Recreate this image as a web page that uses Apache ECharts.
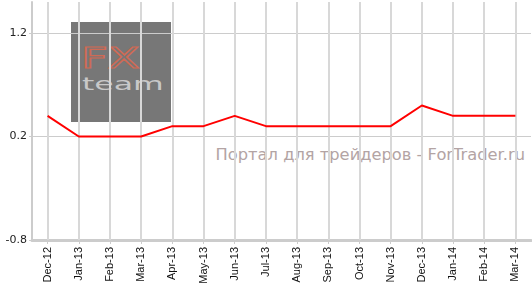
<!DOCTYPE html>
<html>
<head>
<meta charset="utf-8">
<script src="https://cdn.jsdelivr.net/npm/echarts@6/dist/echarts.min.js"></script>
<style>
html,body{margin:0;padding:0;background:#fff}
#wrap{position:relative;width:532px;height:287px}
#bg{position:absolute;left:0;top:0;width:532px;height:287px;z-index:0}
#c{position:absolute;left:0;top:0;width:532px;height:287px;z-index:1}
#logo{position:absolute;left:71px;top:22px;width:100px;height:100px;background:#777}
#fx{position:absolute;left:10px;top:22px;font:29px "DejaVu Sans";line-height:29px;color:transparent;-webkit-text-stroke:1.2px #cf6a55;transform:scaleX(1.6);transform-origin:0 0;white-space:nowrap}
#team{position:absolute;left:11px;top:53px;font:18px "DejaVu Sans";line-height:18px;color:#c8c8c8;transform:scaleX(1.75);transform-origin:0 0;white-space:nowrap}
#wm{position:absolute;right:7px;top:145px;font:16.3px "DejaVu Sans";line-height:20px;color:#b3a4a4;white-space:nowrap}
</style>
</head>
<body>
<div id="wrap">
  <div id="bg">
    <div id="logo"><div id="fx">FX</div><div id="team">team</div></div>
    <div id="wm"></div>
  </div>
  <div id="c"></div>
</div>
<script>
const categories = ['Dec-12','Jan-13','Feb-13','Mar-13','Apr-13','May-13','Jun-13','Jul-13','Aug-13','Sep-13','Oct-13','Nov-13','Dec-13','Jan-14','Feb-14','Mar-14'];
const values = [0.4, 0.2, 0.2, 0.2, 0.3, 0.3, 0.4, 0.3, 0.3, 0.3, 0.3, 0.3, 0.5, 0.4, 0.4, 0.4];
const yTicks = [-0.8, 0.2, 1.2];
const watermarkText = 'Портал для трейдеров - ForTrader.ru';
document.getElementById('wm').textContent = watermarkText;

const chart = echarts.init(document.getElementById('c'), null, {renderer: 'canvas'});
chart.setOption({
  animation: false,
  backgroundColor: 'transparent',
  grid: {left: 32, right: 1, top: 2, bottom: 47},
  xAxis: {
    type: 'category',
    data: categories,
    boundaryGap: true,
    axisLine: {show: true, onZero: false, lineStyle: {color: '#cccccc', width: 3}},
    axisTick: {show: true, alignWithLabel: true, length: 4, lineStyle: {color: '#cccccc'}},
    axisLabel: {rotate: 90, fontSize: 11, fontFamily: 'Liberation Sans', color: '#111', margin: 7, interval: 0},
    splitLine: {show: false}
  },
  yAxis: {
    type: 'value',
    min: yTicks[0],
    max: 1.5,
    interval: 1,
    axisLine: {show: true, lineStyle: {color: '#cccccc', width: 2}},
    axisTick: {show: true, length: 3, lineStyle: {color: '#cccccc'}},
    axisLabel: {fontSize: 11, fontFamily: 'DejaVu Sans', color: '#222', margin: 5, showMaxLabel: false,
      formatter: v => (yTicks.some(t => Math.abs(t - v) < 1e-6) ? v.toFixed(1) : '')},
    splitLine: {show: true, showMaxLine: false, lineStyle: {color: '#cccccc', width: 1}}
  },
  series: [
    {
      type: 'line', z: 1, data: [], silent: true,
      markLine: {
        silent: true, symbol: 'none', label: {show: false}, animation: false,
        lineStyle: {color: '#d8d8d8', width: 2, type: 'solid'},
        data: categories.map(c => ({xAxis: c}))
      }
    },
    {
      type: 'line', z: 5, data: values, symbol: 'none',
      lineStyle: {color: '#ff0000', width: 2}, itemStyle: {color: '#ff0000'}
    }
  ]
});
</script>
</body>
</html>
